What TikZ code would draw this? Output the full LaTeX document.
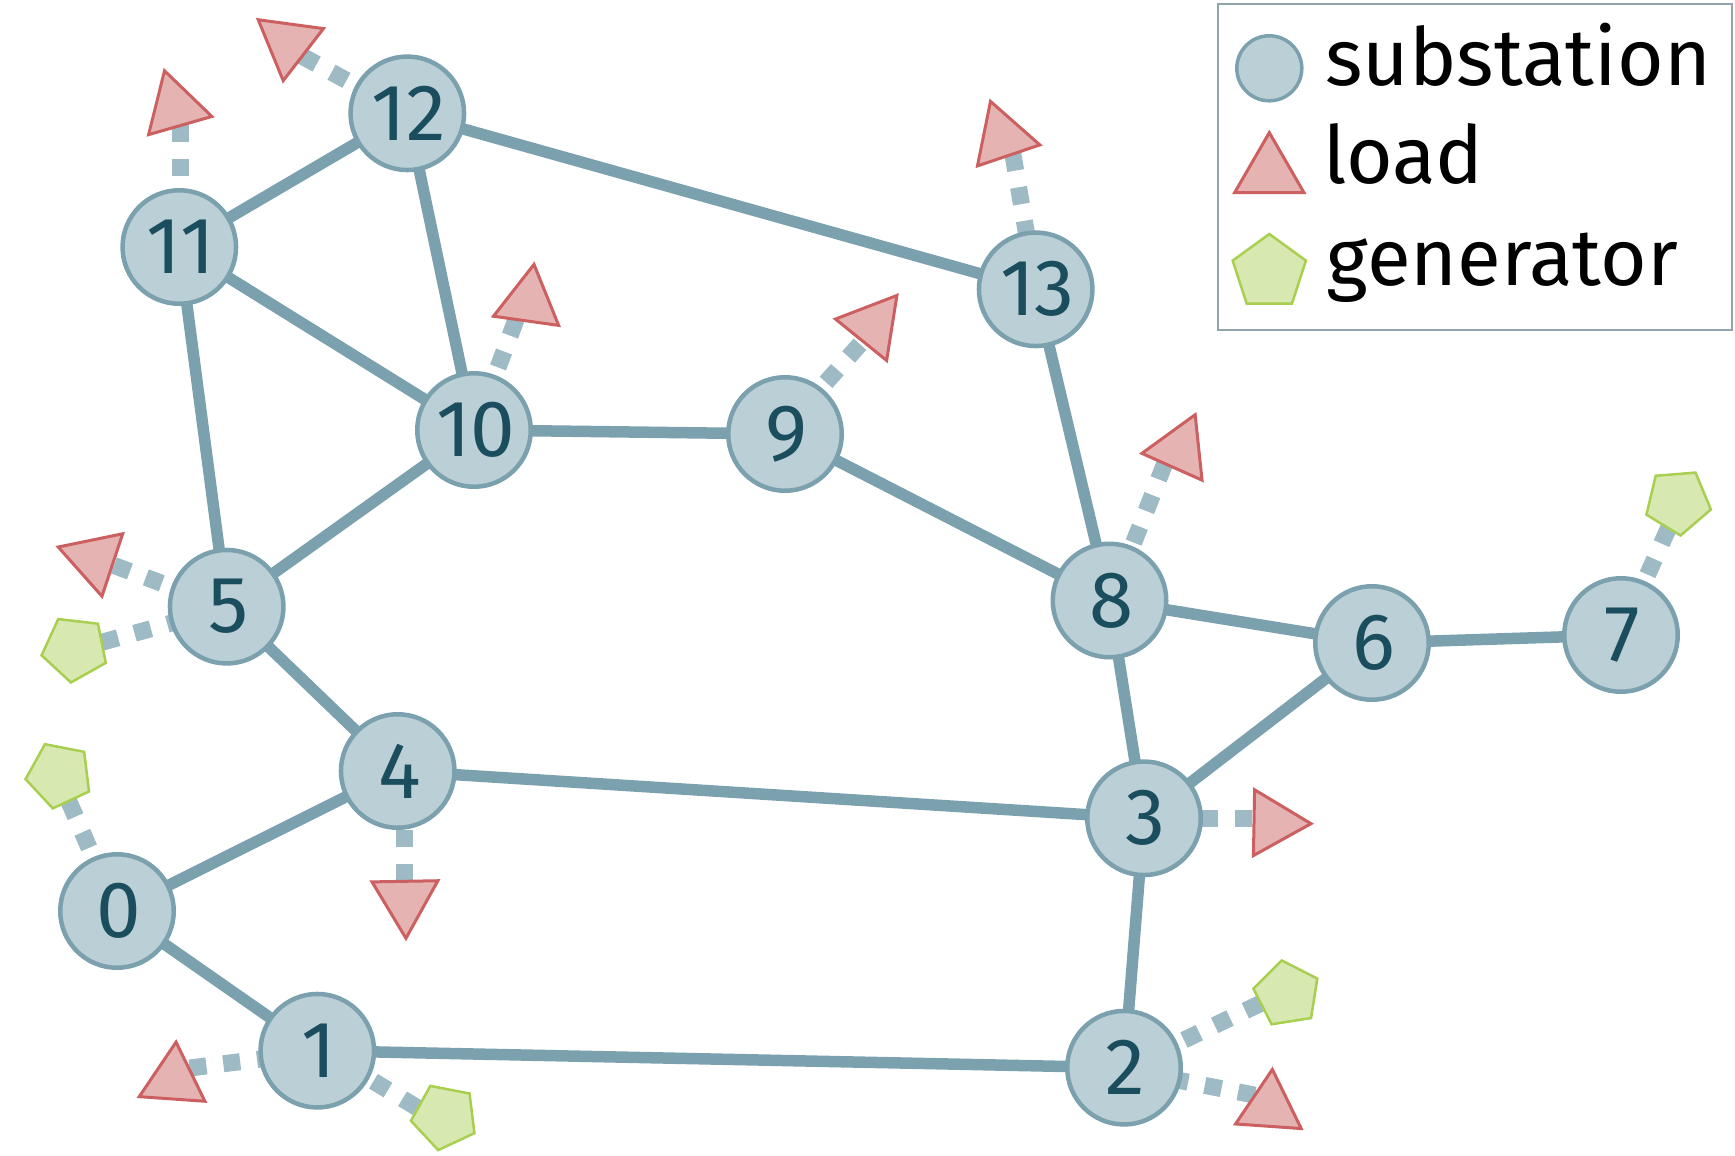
\documentclass[tikz,border=0pt]{standalone}
\usepackage{fontspec}
\setmainfont{Fira Sans}
\usetikzlibrary{shapes.geometric,backgrounds,calc}
\definecolor{subfill}{HTML}{BBCFD6}
\definecolor{subline}{HTML}{7BA0AE}
\definecolor{dashline}{HTML}{9DBAC5}
\definecolor{loadfill}{HTML}{E6B3B3}
\definecolor{loadline}{HTML}{CC6060}
\definecolor{genfill}{HTML}{D7E8B0}
\definecolor{genline}{HTML}{A9CF50}
\definecolor{boxline}{HTML}{8FA4AC}
\definecolor{numtext}{HTML}{1A4D5E}
\tikzset{
  substation/.style={circle,draw=subline,fill=subfill,line width=4.5pt,minimum size=113.5pt,inner sep=0pt,outer sep=0pt,text=numtext,font=\fontsize{80}{80}\selectfont,execute at begin node={\hspace*{3.4pt}}},
  loadtri/.style={regular polygon,regular polygon sides=3,draw=loadline,fill=loadfill,line width=3pt,minimum size=76pt,inner sep=0pt,outer sep=0pt,shape border rotate=#1},
  gentag/.style={regular polygon,regular polygon sides=5,draw=genline,fill=genfill,line width=2.5pt,minimum size=68pt,inner sep=0pt,outer sep=0pt,shape border rotate=#1},
  tie/.style={draw=subline,line width=11.5pt},
  inject/.style={draw=dashline,line width=17pt,dash pattern=on 17pt off 17pt},
  legtext/.style={anchor=base west,inner sep=0pt,font=\fontsize{80}{80}\selectfont,text=black},
}
\newcommand{\injectlink}[6]{\draw[inject] ($(#1)+(#2,#3)$) -- ($(#4)+(#5,#6)$);}
\begin{document}
\begin{tikzpicture}[x=1pt,y=-1pt]
\useasboundingbox (0,0) rectangle (1735,1156);
% substations
\node[substation] (n0) at (117,911) {0};
\node[substation] (n1) at (317.3,1050.7) {1};
\node[substation] (n2) at (1124,1067.7) {2};
\node[substation] (n3) at (1144,818.3) {3};
\node[substation] (n4) at (397.7,771) {4};
\node[substation] (n5) at (226.7,606.7) {5};
\node[substation] (n6) at (1372,643) {6};
\node[substation] (n7) at (1621,635) {7};
\node[substation] (n8) at (1109.5,600.5) {8};
\node[substation] (n9) at (785,434) {9};
\node[substation] (n10) at (474,430) {10};
\node[substation] (n11) at (179.3,247) {11};
\node[substation] (n12) at (407.3,113.3) {12};
\node[substation] (n13) at (1035.7,289.3) {13};
% loads
\node[loadtri=52.3] (l12) at (288.3,43) {};
\node[loadtri=16] (l11) at (175,107.3) {};
\node[loadtri=18.6] (l13) at (1002.6,137.4) {};
\node[loadtri=-8] (l10) at (528.7,302) {};
\node[loadtri=-39] (l9) at (873,325) {};
\node[loadtri=-24] (l8) at (1179.7,449.4) {};
\node[loadtri=71.6] (l5) at (94.3,559) {};
\node[loadtri=181] (l4) at (405.3,900.3) {};
\node[loadtri=-91] (l3) at (1273,823) {};
\node[loadtri=-4] (l1) at (173.4,1080) {};
\node[loadtri=-4] (l2) at (1269.7,1107.3) {};
% generators
\node[gentag=29.3] (g5) at (74.9,648.7) {};
\node[gentag=25] (g0) at (59.3,775) {};
\node[gentag=25] (g1) at (444.7,1116.7) {};
\node[gentag=9] (g2) at (1287,994) {};
\node[gentag=-31.4] (g7) at (1677.8,501.6) {};
\begin{pgfonlayer}{background}
\foreach \a/\b in {n0/n4,n0/n1,n1/n2,n2/n3,n3/n4,n3/n8,n3/n6,n4/n5,n5/n10,n5/n11,n6/n8,n6/n7,n8/n9,n8/n13,n9/n10,n10/n11,n10/n12,n11/n12,n12/n13}
  \draw[tie] (\a) -- (\b);
\injectlink{n12}{-31}{-16.6}{l12}{-0.5}{5.3}
\injectlink{n11}{0.7}{-3}{l11}{5}{12.7}
\injectlink{n10}{12}{-30.8}{l10}{-6.5}{1.4}
\injectlink{n9}{18.4}{-26.3}{l9}{-1.4}{6.2}
\injectlink{n13}{-8.5}{-51.7}{l13}{7.2}{-0.8}
\injectlink{n8}{11.7}{-26.3}{l8}{-10}{1.6}
\injectlink{n5}{-33.1}{-11.5}{l5}{3.2}{0.3}
\injectlink{n5}{-43}{13}{g5}{0.3}{0.9}
\injectlink{n0}{-14.3}{-32}{g0}{-1.6}{0.8}
\injectlink{n4}{6.6}{25}{l4}{-1}{0}
\injectlink{n1}{-43.4}{6.7}{l1}{3.7}{-10.4}
\injectlink{n1}{27}{13}{g1}{0.3}{7.7}
\injectlink{n3}{23.3}{0}{l3}{0}{-4.7}
\injectlink{n2}{29.3}{-13}{g2}{-5}{-0.8}
\injectlink{n2}{47.4}{11.2}{l2}{2.1}{-8.9}
\injectlink{n7}{12.6}{-29.4}{g7}{1.9}{1.7}
\end{pgfonlayer}
% legend
\node[draw=boxline,line width=2pt,minimum width=513.7pt,minimum height=326pt,inner sep=0pt,outer sep=0pt] (legendbox) at (1474.85,167) {};
\node[circle,draw=subline,fill=subfill,line width=3.5pt,minimum size=65pt,inner sep=0pt,outer sep=0pt] (legsub) at (1269.3,68.3) {};
\node[loadtri=0,minimum size=80pt] (legload) at (1269.3,172.6) {};
\node[gentag=0,minimum size=77pt] (leggen) at (1269.3,272.5) {};
\node[legtext] (t1) at (1325,85) {substation};
\node[legtext] (t2) at (1323,183.3) {load};
\node[legtext] (t3) at (1326.5,285) {generator};
\end{tikzpicture}
\end{document}
